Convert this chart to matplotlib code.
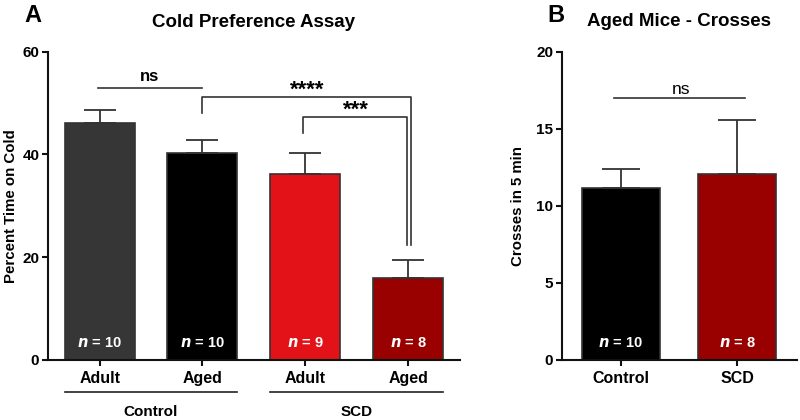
import matplotlib
matplotlib.use("Agg")
import matplotlib.pyplot as plt
import matplotlib.transforms as mtransforms
import numpy as np

plt.rcParams['font.family'] = ['Liberation Sans', 'DejaVu Sans']
plt.rcParams['font.weight'] = 'bold'

# ---- data ----
a_title = "Cold Preference Assay"
a_ticklabels = ["Adult", "Aged", "Adult", "Aged"]
a_groups = ["Control", "SCD"]
a_means = [46.2, 40.2, 36.2, 15.9]
a_sem = [2.4, 2.7, 4.0, 3.6]
a_n = [10, 10, 9, 8]
a_colors = ["#363636", "#000000", "#e31118", "#990000"]

b_title = "Aged Mice - Crosses"
b_ticklabels = ["Control", "SCD"]
b_means = [11.17, 12.06]
b_sem = [1.2, 3.5]
b_n = [10, 8]
b_colors = ["#000000", "#990000"]

edge = "#333333"

fig = plt.figure(figsize=(8, 4.2), dpi=100)
axA = fig.add_axes([0.0596, 0.1429, 0.575 - 0.0596, 0.8769 - 0.1429])
axB = fig.add_axes([0.702, 0.1429, 0.996 - 0.702, 0.8769 - 0.1429])


def style_axis(ax):
    for s in ['top', 'right']:
        ax.spines[s].set_visible(False)
    for s in ['left', 'bottom']:
        ax.spines[s].set_linewidth(1.5)
        ax.spines[s].set_color('#111111')
    ax.tick_params(axis='both', direction='out', length=4, width=1.5, color='#111111')
    ax.tick_params(axis='y', pad=2, labelsize=11)
    ax.tick_params(axis='x', pad=4, labelsize=11.5)


# ---- Panel A ----
style_axis(axA)
xA = np.arange(len(a_means))
axA.bar(xA, a_means, width=0.68, color=a_colors, edgecolor=edge, linewidth=1.2, zorder=2)
axA.errorbar(xA, a_means, yerr=[np.zeros(len(a_means)), a_sem], fmt='none',
             ecolor=edge, elinewidth=1.3, capsize=11.5, capthick=1.3, zorder=3)
axA.set_xlim(-0.505, 3.505)
axA.set_ylim(0, 60)
axA.set_yticks([0, 20, 40, 60])
axA.set_xticks(xA)
axA.set_xticklabels(a_ticklabels, fontweight='bold')
for lbl in axA.get_yticklabels():
    lbl.set_fontweight('bold')
axA.set_ylabel("Percent Time on Cold", fontsize=10.8, fontweight='bold')
axA.yaxis.set_label_coords(-0.072, 0.5)
axA.text(0.5, 1.094, a_title, transform=axA.transAxes, ha='center', va='center',
         fontsize=13.5, fontweight='bold')

transA = mtransforms.blended_transform_factory(axA.transData, axA.transAxes)
for xi, ni in zip(xA, a_n):
    axA.text(xi, 0.055, r"$\mathbf{\it{n}}$" + " = %d" % ni, transform=transA, ha='center',
             va='center', color='white', fontsize=10.5, fontweight='bold')

# group lines and labels
for gi, g in enumerate(a_groups):
    x0 = 2 * gi - 0.34
    x1 = 2 * gi + 1 + 0.34
    axA.plot([x0, x1], [-0.104, -0.104], transform=transA, color='#222222', lw=1.2,
             clip_on=False)
    axA.text(2 * gi + 0.5, -0.168, g, transform=transA, ha='center', va='center',
             fontsize=11, fontweight='bold')

# significance
bc = '#333333'
blw = 1.2
axA.plot([-0.02, 1.0], [53.0, 53.0], color=bc, lw=blw, clip_on=False)
axA.text(0.49, 55.2, "ns", ha='center', va='center', fontsize=12, fontweight='bold')
axA.plot([1.0, 1.0, 3.026, 3.026], [48.0, 51.2, 51.2, 22.4], color=bc, lw=blw, clip_on=False)
axA.text(2.02, 52.5, "****", ha='center', va='center', fontsize=16, fontweight='bold')
axA.plot([1.98, 1.98, 2.987, 2.987], [44.1, 47.2, 47.2, 22.4], color=bc, lw=blw, clip_on=False)
axA.text(2.49, 48.6, "***", ha='center', va='center', fontsize=16, fontweight='bold')

# ---- Panel B ----
style_axis(axB)
xB = np.arange(len(b_means))
axB.bar(xB, b_means, width=0.67, color=b_colors, edgecolor=edge, linewidth=1.2, zorder=2)
axB.errorbar(xB, b_means, yerr=[np.zeros(len(b_means)), b_sem], fmt='none',
             ecolor=edge, elinewidth=1.3, capsize=13.5, capthick=1.3, zorder=3)
axB.set_xlim(-0.507, 1.51)
axB.set_ylim(0, 20)
axB.set_yticks([0, 5, 10, 15, 20])
axB.set_xticks(xB)
axB.set_xticklabels(b_ticklabels, fontweight='bold')
for lbl in axB.get_yticklabels():
    lbl.set_fontweight('bold')
axB.set_ylabel("Crosses in 5 min", fontsize=10.8, fontweight='bold')
axB.yaxis.set_label_coords(-0.156, 0.5)
axB.text(0.5, 1.097, b_title, transform=axB.transAxes, ha='center', va='center',
         fontsize=13.5, fontweight='bold')
transB = mtransforms.blended_transform_factory(axB.transData, axB.transAxes)
for xi, ni in zip(xB, b_n):
    axB.text(xi, 0.056, r"$\mathbf{\it{n}}$" + " = %d" % ni, transform=transB, ha='center',
             va='center', color='white', fontsize=10.5, fontweight='bold')
axB.plot([-0.06, 1.07], [16.97, 16.97], color=bc, lw=blw, clip_on=False)
axB.text(0.52, 17.55, "ns", ha='center', va='center', fontsize=12.5, fontweight='normal')

# panel letters
fig.text(33 / 800, 1 - 15 / 420, "A", ha='center', va='center', fontsize=17, fontweight='bold')
fig.text(556 / 800, 1 - 15 / 420, "B", ha='center', va='center', fontsize=17, fontweight='bold')

fig.savefig("out.png", dpi=100)
